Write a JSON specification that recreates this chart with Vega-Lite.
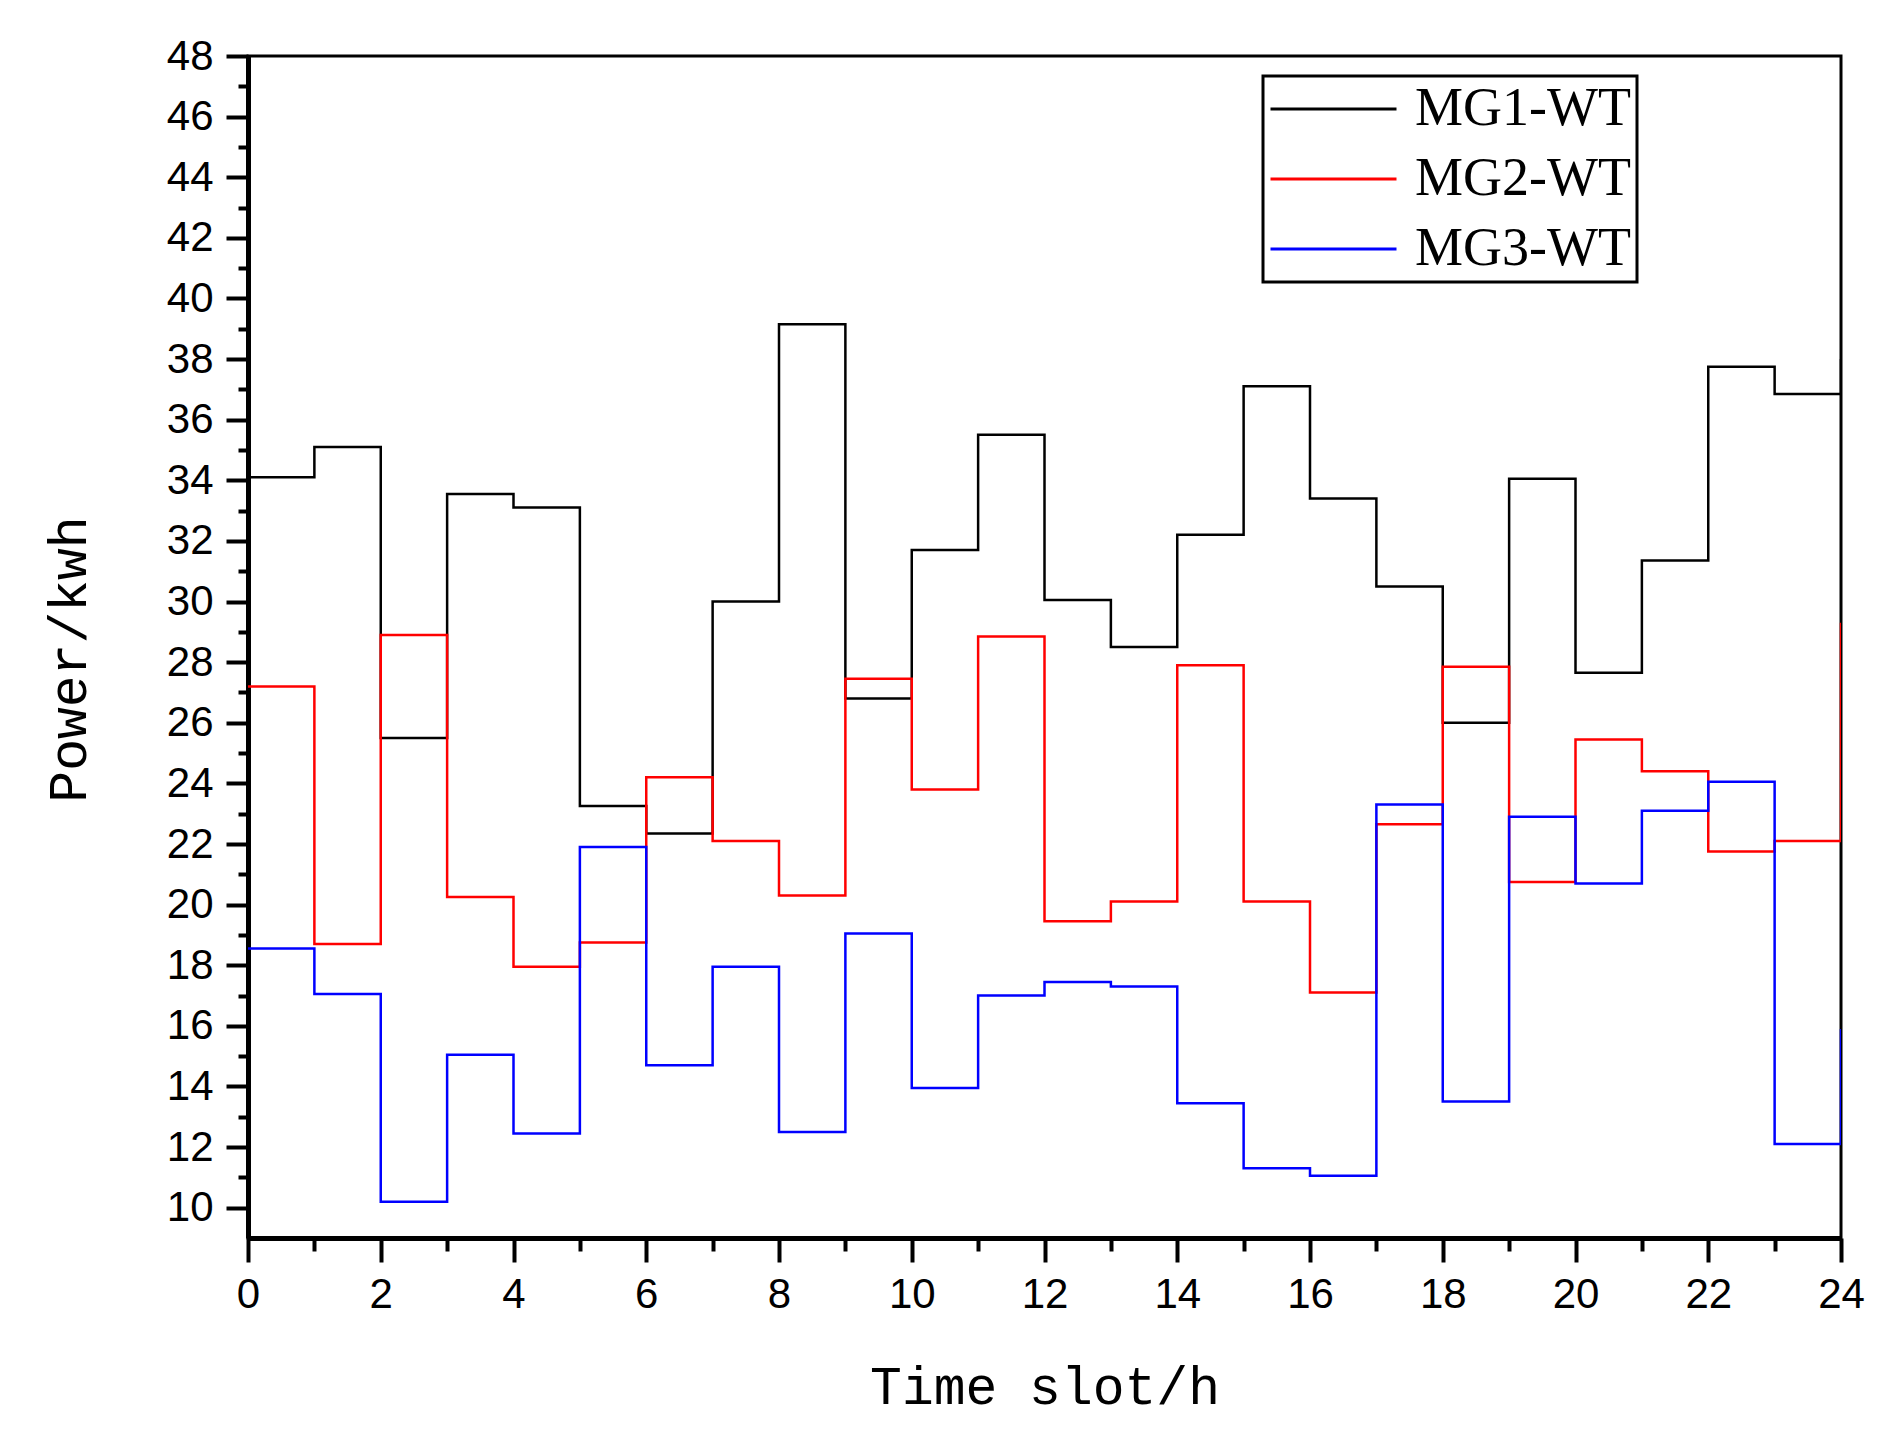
{
  "$schema": "https://vega.github.io/schema/vega-lite/v6.json",
  "width": 1593,
  "height": 1182,
  "autosize": "none",
  "padding": {"left": 248, "top": 56, "right": 54, "bottom": 199},
  "background": "white",
  "data": {
    "values": [
      {"t": 0, "series": "MG1-WT", "power": 34.1},
      {"t": 1, "series": "MG1-WT", "power": 35.1},
      {"t": 2, "series": "MG1-WT", "power": 25.5},
      {"t": 3, "series": "MG1-WT", "power": 33.55},
      {"t": 4, "series": "MG1-WT", "power": 33.1},
      {"t": 5, "series": "MG1-WT", "power": 23.25},
      {"t": 6, "series": "MG1-WT", "power": 22.35},
      {"t": 7, "series": "MG1-WT", "power": 30.0},
      {"t": 8, "series": "MG1-WT", "power": 39.15},
      {"t": 9, "series": "MG1-WT", "power": 26.8},
      {"t": 10, "series": "MG1-WT", "power": 31.7},
      {"t": 11, "series": "MG1-WT", "power": 35.5},
      {"t": 12, "series": "MG1-WT", "power": 30.05},
      {"t": 13, "series": "MG1-WT", "power": 28.5},
      {"t": 14, "series": "MG1-WT", "power": 32.2},
      {"t": 15, "series": "MG1-WT", "power": 37.1},
      {"t": 16, "series": "MG1-WT", "power": 33.4},
      {"t": 17, "series": "MG1-WT", "power": 30.5},
      {"t": 18, "series": "MG1-WT", "power": 26.0},
      {"t": 19, "series": "MG1-WT", "power": 34.05},
      {"t": 20, "series": "MG1-WT", "power": 27.65},
      {"t": 21, "series": "MG1-WT", "power": 31.35},
      {"t": 22, "series": "MG1-WT", "power": 37.75},
      {"t": 23, "series": "MG1-WT", "power": 36.85},
      {"t": 24, "series": "MG1-WT", "power": 38.0},
      {"t": 0, "series": "MG2-WT", "power": 27.2},
      {"t": 1, "series": "MG2-WT", "power": 18.7},
      {"t": 2, "series": "MG2-WT", "power": 28.9},
      {"t": 3, "series": "MG2-WT", "power": 20.25},
      {"t": 4, "series": "MG2-WT", "power": 17.95},
      {"t": 5, "series": "MG2-WT", "power": 18.75},
      {"t": 6, "series": "MG2-WT", "power": 24.2},
      {"t": 7, "series": "MG2-WT", "power": 22.1},
      {"t": 8, "series": "MG2-WT", "power": 20.3},
      {"t": 9, "series": "MG2-WT", "power": 27.45},
      {"t": 10, "series": "MG2-WT", "power": 23.8},
      {"t": 11, "series": "MG2-WT", "power": 28.85},
      {"t": 12, "series": "MG2-WT", "power": 19.45},
      {"t": 13, "series": "MG2-WT", "power": 20.1},
      {"t": 14, "series": "MG2-WT", "power": 27.9},
      {"t": 15, "series": "MG2-WT", "power": 20.1},
      {"t": 16, "series": "MG2-WT", "power": 17.1},
      {"t": 17, "series": "MG2-WT", "power": 22.65},
      {"t": 18, "series": "MG2-WT", "power": 27.85},
      {"t": 19, "series": "MG2-WT", "power": 20.75},
      {"t": 20, "series": "MG2-WT", "power": 25.45},
      {"t": 21, "series": "MG2-WT", "power": 24.4},
      {"t": 22, "series": "MG2-WT", "power": 21.75},
      {"t": 23, "series": "MG2-WT", "power": 22.1},
      {"t": 24, "series": "MG2-WT", "power": 29.3},
      {"t": 0, "series": "MG3-WT", "power": 18.55},
      {"t": 1, "series": "MG3-WT", "power": 17.05},
      {"t": 2, "series": "MG3-WT", "power": 10.2},
      {"t": 3, "series": "MG3-WT", "power": 15.05},
      {"t": 4, "series": "MG3-WT", "power": 12.45},
      {"t": 5, "series": "MG3-WT", "power": 21.9},
      {"t": 6, "series": "MG3-WT", "power": 14.7},
      {"t": 7, "series": "MG3-WT", "power": 17.95},
      {"t": 8, "series": "MG3-WT", "power": 12.5},
      {"t": 9, "series": "MG3-WT", "power": 19.05},
      {"t": 10, "series": "MG3-WT", "power": 13.95},
      {"t": 11, "series": "MG3-WT", "power": 17.0},
      {"t": 12, "series": "MG3-WT", "power": 17.45},
      {"t": 13, "series": "MG3-WT", "power": 17.3},
      {"t": 14, "series": "MG3-WT", "power": 13.45},
      {"t": 15, "series": "MG3-WT", "power": 11.3},
      {"t": 16, "series": "MG3-WT", "power": 11.05},
      {"t": 17, "series": "MG3-WT", "power": 23.3},
      {"t": 18, "series": "MG3-WT", "power": 13.5},
      {"t": 19, "series": "MG3-WT", "power": 22.9},
      {"t": 20, "series": "MG3-WT", "power": 20.7},
      {"t": 21, "series": "MG3-WT", "power": 23.1},
      {"t": 22, "series": "MG3-WT", "power": 24.05},
      {"t": 23, "series": "MG3-WT", "power": 12.1},
      {"t": 24, "series": "MG3-WT", "power": 15.9}
    ]
  },
  "resolve": {"axis": {"x": "independent", "y": "independent"}},
  "layer": [
    {
      "mark": {"type": "line", "strokeOpacity": 0},
      "encoding": {
        "x": {
          "field": "t",
          "type": "quantitative",
          "scale": {"domain": [0, 24], "nice": false, "zero": false},
          "axis": {
            "orient": "bottom",
            "title": null,
            "values": [1,3,5,7,9,11,13,15,17,19,21,23],
            "labels": false,
            "domain": false,
            "tickSize": 13
          }
        },
        "y": {
          "field": "power",
          "type": "quantitative",
          "scale": {"domain": [9, 48], "nice": false, "zero": false},
          "axis": {
            "orient": "left",
            "title": null,
            "values": [11,13,15,17,19,21,23,25,27,29,31,33,35,37,39,41,43,45,47],
            "labels": false,
            "domain": false,
            "tickSize": 10
          }
        },
        "detail": {"field": "series"}
      }
    },
    {
      "mark": {"type": "line", "interpolate": "step-after", "strokeWidth": 2.5, "clip": true},
      "encoding": {
        "x": {
          "field": "t",
          "type": "quantitative",
          "axis": {
            "orient": "bottom",
            "title": "Time slot/h",
            "values": [0,2,4,6,8,10,12,14,16,18,20,22,24],
            "labelFlush": false,
            "labelOverlap": false,
            "tickSize": 24,
            "labelPadding": 12,
            "titleY": 165,
            "titleBaseline": "alphabetic"
          }
        },
        "y": {
          "field": "power",
          "type": "quantitative",
          "axis": {
            "orient": "left",
            "title": "Power/kwh",
            "values": [10,12,14,16,18,20,22,24,26,28,30,32,34,36,38,40,42,44,46,48],
            "labelFlush": false,
            "labelOverlap": false,
            "tickSize": 22,
            "labelPadding": 13,
            "titleX": -163,
            "titleY": 603,
            "titleBaseline": "alphabetic",
            "titleAngle": -90
          }
        },
        "color": {
          "field": "series",
          "type": "nominal",
          "scale": {"domain": ["MG1-WT", "MG2-WT", "MG3-WT"], "range": ["#000000", "#ff0000", "#0000ff"]},
          "legend": {
            "title": null,
            "orient": "none",
            "legendX": 1015,
            "legendY": 20,
            "padding": 6,
            "strokeColor": "black",
            "symbolType": "stroke",
            "symbolSize": 15876,
            "symbolStrokeWidth": 3,
            "clipHeight": 54,
            "labelFont": "Liberation Serif",
            "labelFontSize": 54,
            "labelColor": "black",
            "labelOffset": 17,
            "rowPadding": 16,
            "labelLimit": 400
          }
        }
      }
    }
  ],
  "config": {
    "view": {"stroke": "black", "strokeWidth": 3},
    "axis": {
      "domainColor": "black",
      "domainWidth": 5,
      "tickColor": "black",
      "tickWidth": 4,
      "grid": false,
      "labelFont": "Liberation Sans",
      "labelFontSize": 42,
      "labelColor": "black",
      "titleFont": "Liberation Mono",
      "titleFontSize": 53,
      "titleFontWeight": "normal",
      "titleColor": "black"
    },
    "legend": {"strokeWidth": 3}
  }
}
